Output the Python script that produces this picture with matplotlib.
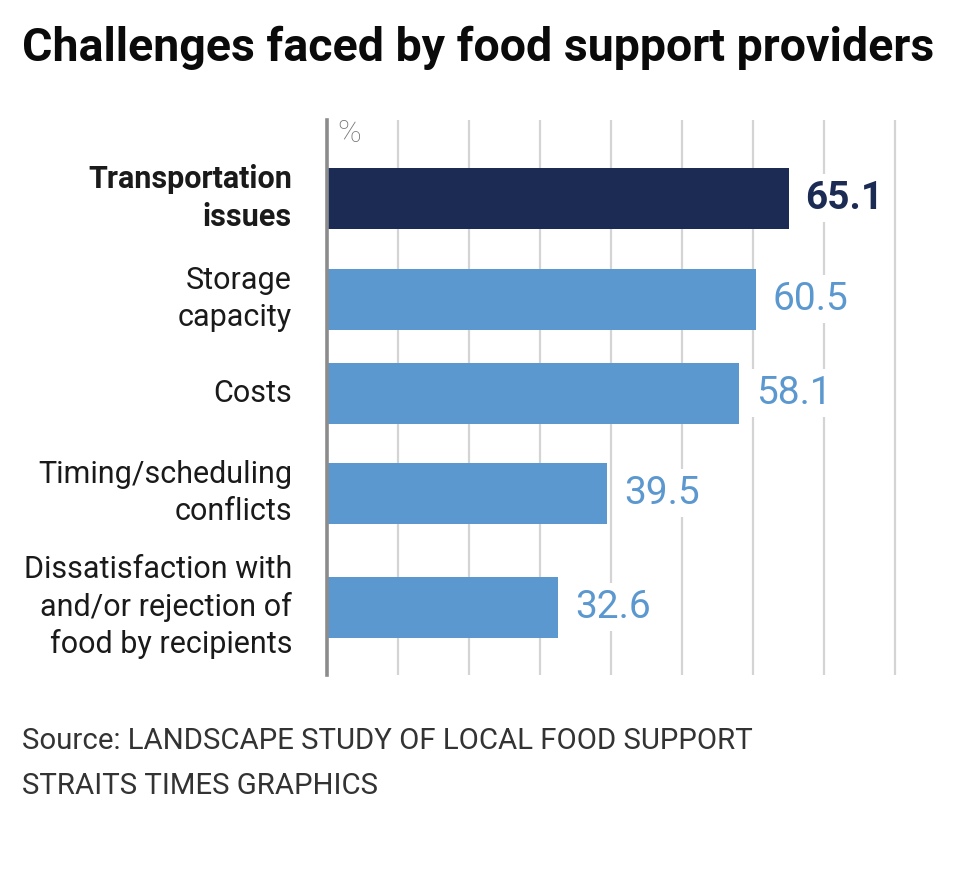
import matplotlib
matplotlib.use("Agg")
import matplotlib.pyplot as plt

categories = ["Transportation\nissues", "Storage\ncapacity", "Costs",
              "Timing/scheduling\nconflicts",
              "Dissatisfaction with\nand/or rejection of\nfood by recipients"]
values = [65.1, 60.5, 58.1, 39.5, 32.6]
highlight = [True, False, False, False, False]

# layout: bar centres in pixels from the top of the figure
ypos = [198, 299, 393, 493, 607]

DARK = "#1c2b54"
LIGHT = "#5b98cf"
FONT = "Roboto"

fig = plt.figure(figsize=(9.6, 8.72), dpi=100)
W, H = 960, 872
ax = fig.add_axes([327 / W, (H - 675) / H, (930 - 327) / W, (675 - 120) / H])
ax.set_xlim(0, 85)
ax.set_ylim(675, 120)

for y, v, hl in zip(ypos, values, highlight):
    ax.barh(y, v, height=61, color=DARK if hl else LIGHT, zorder=2)
    ax.annotate(f"{v}", (v, y), xytext=(12, 0), textcoords="offset points",
                va="center", ha="left", fontsize=28, family=FONT,
                fontweight="bold" if hl else "normal",
                color=DARK if hl else LIGHT, zorder=3,
                bbox=dict(boxstyle="square,pad=0.15", fc="white", ec="none"))

ax.set_xticks(range(10, 90, 10))
ax.grid(axis="x", color="#d4d4d4", lw=1.6, zorder=0)
ax.tick_params(length=0, labelbottom=False, labelleft=False)
ax.set_yticks([])
for s in ax.spines.values():
    s.set_visible(False)
ax.axvline(0, color="#8c8c8c", lw=2.6, zorder=4, clip_on=False)
fig.text(337 / W, 1 - 133 / H, "%", fontsize=23, color="#777777",
         family=FONT, fontweight="light", va="center", ha="left")

for y, lab, hl in zip(ypos, categories, highlight):
    fig.text(292 / W, 1 - y / H, lab, ha="right", va="center", fontsize=22,
             family=FONT, fontweight="bold" if hl else "normal",
             color="#1a1a1a", linespacing=1.31)

fig.text(22 / W, 1 - 48 / H, "Challenges faced by food support providers",
         fontsize=33.5, fontweight="bold", family=FONT, color="#0a0a0a",
         ha="left", va="center")
fig.text(22 / W, 1 - 741 / H, "Source: LANDSCAPE STUDY OF LOCAL FOOD SUPPORT",
         fontsize=21.2, family=FONT, color="#333333", ha="left", va="center")
fig.text(22 / W, 1 - 786 / H, "STRAITS TIMES GRAPHICS",
         fontsize=21.2, family=FONT, color="#333333", ha="left", va="center")

fig.savefig("out.png", dpi=100, facecolor="white")
